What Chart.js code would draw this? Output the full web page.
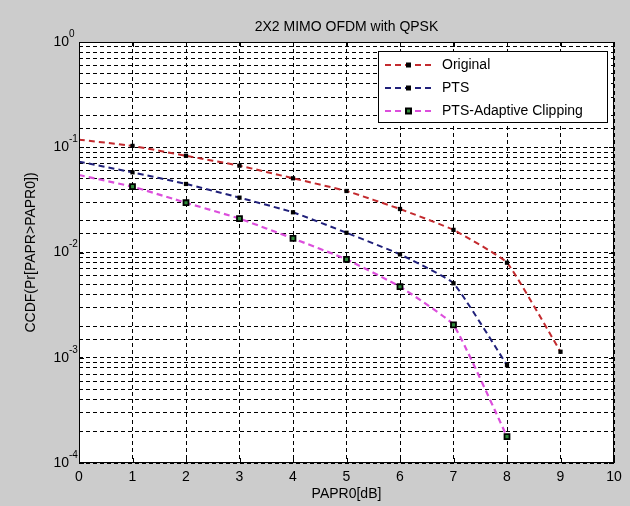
<!DOCTYPE html>
<html>
<head>
<meta charset="utf-8">
<script src="https://cdn.jsdelivr.net/npm/chart.js@4/dist/chart.umd.min.js"></script>
<style>
html,body{margin:0;padding:0;background:#cccccc;}
#wrap{width:630px;height:506px;position:relative;}
</style>
</head>
<body>
<div id="wrap"><canvas id="c" width="630" height="506"></canvas></div>
<script>
const xValues = [0,1,2,3,4,5,6,7,8,9];
const original = [0.118,0.103,0.083,0.0668,0.0507,0.0384,0.0259,0.0164,0.0080,0.00114];
const pts = [0.073,0.0578,0.0448,0.0332,0.0241,0.0154,0.0096,0.0051,0.00085];
const ptsAdaptive = [0.0545,0.0422,0.0297,0.0210,0.0136,0.0086,0.00473,0.00205,0.000178];
const xTickLabels = ['0','1','2','3','4','5','6','7','8','9','10'];
const yTickExps = [0,-1,-2,-3,-4];
const seriesNames = ['Original','PTS','PTS-Adaptive Clipping'];
const titleText = '2X2 MIMO OFDM with QPSK';
const xTitle = 'PAPR0[dB]';
const yTitle = 'CCDF(Pr[PAPR>PAPR0])';

const FONT = "'Liberation Sans', Arial, Helvetica, sans-serif";
const colors = ['#c32a2e','#20207a','#dc4edc'];

function pts2xy(arr){ return arr.map((v,i)=>({x:xValues[i], y:v})); }
const hideFirst = (size)=> (ctx)=> ctx.dataIndex===0 ? 0 : size;

const decorPlugin = {
  id:'decor',
  beforeDraw(chart){
    const {ctx, chartArea:a} = chart;
    ctx.save();
    ctx.fillStyle = '#cccccc';
    ctx.fillRect(0,0,chart.width,chart.height);
    ctx.fillStyle = '#ffffff';
    ctx.fillRect(a.left,a.top,a.right-a.left,a.bottom-a.top);
    ctx.restore();
  },
  afterDatasetsDraw(chart){
    const {ctx, chartArea:a, scales} = chart;
    ctx.save();
    ctx.strokeStyle='#000'; ctx.lineWidth=1;
    ctx.strokeRect(a.left+0.5,a.top+0.5,a.right-a.left-1,a.bottom-a.top-1);
    xTickLabels.forEach((t,i)=>{
      const px = Math.round(scales.x.getPixelForValue(i))+0.5;
      ctx.beginPath();
      ctx.moveTo(px,a.bottom); ctx.lineTo(px,a.bottom-5);
      ctx.moveTo(px,a.top); ctx.lineTo(px,a.top+5);
      ctx.stroke();
    });
    yTickExps.forEach(e=>{
      const py = Math.round(scales.y.getPixelForValue(Math.pow(10,e)))+0.5;
      ctx.beginPath();
      ctx.moveTo(a.left,py); ctx.lineTo(a.left+5,py);
      ctx.moveTo(a.right,py); ctx.lineTo(a.right-5,py);
      ctx.stroke();
    });
    ctx.fillStyle='#000';
    ctx.font = '14px '+FONT;
    ctx.textAlign='center'; ctx.textBaseline='middle';
    xTickLabels.forEach((t,i)=>{
      ctx.fillText(t, scales.x.getPixelForValue(i), a.bottom+14);
    });
    yTickExps.forEach(e=>{
      const py = scales.y.getPixelForValue(Math.pow(10,e));
      ctx.font = '14px '+FONT;
      ctx.textAlign='right'; ctx.textBaseline='middle';
      ctx.fillText('10', a.left-10, py);
      ctx.font = '10px '+FONT;
      ctx.textAlign='left';
      ctx.fillText(String(e), a.left-10, py-8);
    });
    ctx.font = '14px '+FONT;
    ctx.textAlign='center'; ctx.textBaseline='middle';
    ctx.fillText(titleText, (a.left+a.right)/2, 27);
    ctx.fillText(xTitle, (a.left+a.right)/2, 494);
    ctx.save();
    ctx.translate(31,(a.top+a.bottom)/2);
    ctx.rotate(-Math.PI/2);
    ctx.fillText(yTitle,0,0);
    ctx.restore();
    const lx=378, ly=51, lw=230, lh=72;
    ctx.fillStyle='#fff'; ctx.fillRect(lx,ly,lw,lh);
    ctx.strokeStyle='#000'; ctx.lineWidth=1;
    ctx.strokeRect(lx+0.5,ly+0.5,lw-1,lh-1);
    const rows=[65,88,111];
    seriesNames.forEach((n,i)=>{
      const y=rows[i];
      ctx.strokeStyle=colors[i]; ctx.lineWidth=2; ctx.setLineDash([6,4]);
      ctx.beginPath(); ctx.moveTo(385,y); ctx.lineTo(434,y); ctx.stroke();
      ctx.setLineDash([]);
      if(i<2){ ctx.fillStyle='#000'; ctx.fillRect(406,y-2.5,5,5); }
      else { ctx.fillStyle='#000'; ctx.fillRect(405,y-3.5,7,7); ctx.fillStyle='#2f8a3a'; ctx.fillRect(407,y-1.5,3,3); }
      ctx.fillStyle='#000'; ctx.font='14px '+FONT; ctx.textAlign='left'; ctx.textBaseline='middle';
      ctx.fillText(n,442,y);
    });
    ctx.restore();
  }
};

new Chart(document.getElementById('c'),{
  type:'line',
  data:{
    datasets:[
      {label:seriesNames[0], data:pts2xy(original), borderColor:colors[0], borderWidth:2, borderDash:[6,4],
       pointStyle:'rect', pointRadius:hideFirst(3), pointBackgroundColor:'#000', pointBorderColor:'#000', pointBorderWidth:0,
       tension:0.12, fill:false},
      {label:seriesNames[1], data:pts2xy(pts), borderColor:colors[1], borderWidth:2, borderDash:[6,4],
       pointStyle:'rect', pointRadius:hideFirst(3), pointBackgroundColor:'#000', pointBorderColor:'#000', pointBorderWidth:0,
       tension:0.12, fill:false},
      {label:seriesNames[2], data:pts2xy(ptsAdaptive), borderColor:colors[2], borderWidth:2.2, borderDash:[6,4],
       pointStyle:'rect', pointRadius:hideFirst(3.5), pointBackgroundColor:'#2f8a3a', pointBorderColor:'#000', pointBorderWidth:1.8,
       tension:0.12, fill:false}
    ]
  },
  options:{
    responsive:false, animation:false, devicePixelRatio:1,
    layout:{padding:{left:0,top:42,right:16,bottom:0}},
    plugins:{legend:{display:false},title:{display:false},tooltip:{enabled:false}},
    scales:{
      x:{type:'linear',min:0,max:10,
        ticks:{display:false,stepSize:1},
        grid:{color:'#000',lineWidth:1,drawTicks:false},
        border:{display:false,dash:[4,3]},
        afterFit(s){ s.height=43; }
      },
      y:{type:'logarithmic',min:1e-4,max:1,
        ticks:{display:false,autoSkip:false},
        grid:{color:'#000',lineWidth:1,drawTicks:false},
        border:{display:false,dash:[4,3]},
        afterFit(s){ s.width=79; }
      }
    }
  },
  plugins:[decorPlugin]
});
</script>
</body>
</html>
